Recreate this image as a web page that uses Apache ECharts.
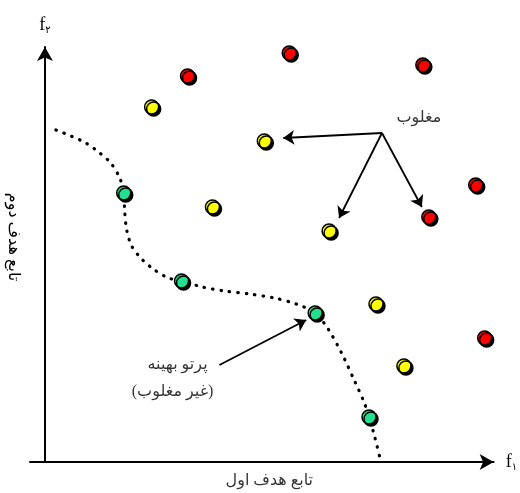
<!DOCTYPE html>
<html>
<head>
<meta charset="utf-8">
<script src="https://cdn.jsdelivr.net/npm/echarts@6/dist/echarts.min.js"></script>
<style>
  html, body { margin: 0; padding: 0; background: #fff; }
  #chart { width: 520px; height: 493px; }
</style>
</head>
<body>
<div id="chart"></div>
<script>
// نمودار جبهه پارتو
var chart = echarts.init(document.getElementById('chart'));

// نقاط مغلوب (قرمز و زرد) و نقاط بهینه (سبز)
var redPoints = [[143, 386], [245, 409], [379, 397], [432, 277], [385, 245], [441, 124]];
var yellowPoints = [[107, 355], [220, 321], [168, 255], [285, 231], [332, 158], [360, 96]];
var greenPoints = [[79, 269], [137, 181], [271, 149], [325, 45]];

// منحنی نقطه چین پرتو
var frontCurve = [
  [11, 332], [26, 326], [41, 319], [55, 309], [66, 299], [75, 284], [79, 269],
  [80, 250], [82, 232], [87, 216], [97, 203], [110, 192], [124, 184], [137, 181],
  [158, 175], [180, 171], [205, 168], [230, 164], [252, 158], [271, 149],
  [284, 133], [298, 108], [311, 80], [320, 60], [325, 45], [331, 24], [337, 0]
];

// فلش ها
var arrowFrom = [338, 329];
var arrowTips = [[239, 324], [295, 244], [378, 255]];
var paretoArrow = [[175, 97], [262, 142]];

// متن ها
var notes = [
  { name: 'مغلوب', value: [375, 344] },
  { name: 'پرتو بهینه', value: [133, 97] },
  { name: '(غیر مغلوب)', value: [128, 70] }
];
var xTitle = 'تابع هدف اول';
var yTitle = 'تابع هدف دوم';

var font = "'Liberation Serif', 'DejaVu Sans', serif";

function pointStyle(color) {
  return {
    color: color,
    opacity: 1,
    borderColor: '#000',
    borderWidth: 1.5,
    shadowColor: '#000',
    shadowBlur: 0,
    shadowOffsetX: 2,
    shadowOffsetY: 2
  };
}

var arrowLines = arrowTips.map(function (t) {
  return { coords: [arrowFrom, t] };
});
arrowLines.push({ coords: paretoArrow });

var textLabel = {
  show: true,
  position: 'inside',
  formatter: '{b}',
  fontFamily: font,
  fontSize: 16,
  color: '#000'
};

var option = {
  animation: false,
  backgroundColor: '#fff',
  grid: { left: 30, right: 25, top: 47, bottom: 31 },
  xAxis: {
    type: 'value',
    min: -15,
    max: 450,
    name: '{a|f}{b|۱}',
    nameLocation: 'end',
    nameGap: 12,
    nameTextStyle: {
      rich: {
        a: { fontFamily: font, fontSize: 18, color: '#000' },
        b: { fontFamily: font, fontSize: 10, color: '#000', padding: [10, 0, 0, 0] }
      }
    },
    splitLine: { show: false },
    axisTick: { show: false },
    axisLabel: { show: false },
    axisLine: {
      lineStyle: { color: '#000', width: 2 },
      symbol: ['none', 'arrow'],
      symbolSize: [12, 14]
    }
  },
  yAxis: {
    type: 'value',
    min: 0,
    max: 415,
    name: '{a|f}{b|۲}',
    nameLocation: 'end',
    nameGap: 12,
    nameTextStyle: {
      rich: {
        a: { fontFamily: font, fontSize: 18, color: '#000' },
        b: { fontFamily: font, fontSize: 10, color: '#000', padding: [10, 0, 0, 0] }
      }
    },
    splitLine: { show: false },
    axisTick: { show: false },
    axisLabel: { show: false },
    axisLine: {
      onZero: true,
      lineStyle: { color: '#000', width: 2 },
      symbol: ['none', 'arrow'],
      symbolSize: [12, 14]
    }
  },
  series: [
    {
      type: 'line',
      data: frontCurve,
      smooth: 0.3,
      symbol: 'none',
      silent: true,
      z: 1,
      lineStyle: { color: '#000', width: 3.2, type: [0.5, 8], cap: 'round' }
    },
    {
      type: 'scatter',
      data: redPoints,
      symbolSize: 14,
      z: 3,
      itemStyle: pointStyle('#ff0000')
    },
    {
      type: 'scatter',
      data: yellowPoints,
      symbolSize: 14,
      z: 3,
      itemStyle: pointStyle('#ffff00')
    },
    {
      type: 'scatter',
      data: greenPoints,
      symbolSize: 14,
      z: 3,
      itemStyle: pointStyle('#22e08e')
    },
    {
      type: 'lines',
      coordinateSystem: 'cartesian2d',
      data: arrowLines,
      symbol: ['none', 'arrow'],
      symbolSize: 11,
      silent: true,
      z: 4,
      lineStyle: { color: '#000', width: 1.8, opacity: 1 }
    },
    {
      type: 'scatter',
      data: notes,
      symbolSize: 1,
      silent: true,
      z: 5,
      itemStyle: { color: 'rgba(0,0,0,0)' },
      label: textLabel
    },
    {
      // عنوان محور افقی
      type: 'scatter',
      data: [{ name: xTitle, value: [225, -19] }],
      symbolSize: 1,
      silent: true,
      clip: false,
      itemStyle: { color: 'rgba(0,0,0,0)' },
      label: textLabel
    }
  ]
};

chart.setOption(option);

// عنوان محور عمودی
var yPos = chart.convertToPixel({ gridIndex: 0 }, [-32, 225]);
chart.setOption({
  graphic: [{
    type: 'text',
    x: yPos[0],
    y: yPos[1],
    rotation: -Math.PI / 2,
    silent: true,
    style: {
      text: yTitle,
      fontFamily: font,
      fontSize: 16,
      fill: '#000',
      align: 'center',
      verticalAlign: 'middle'
    }
  }]
});
</script>
</body>
</html>
